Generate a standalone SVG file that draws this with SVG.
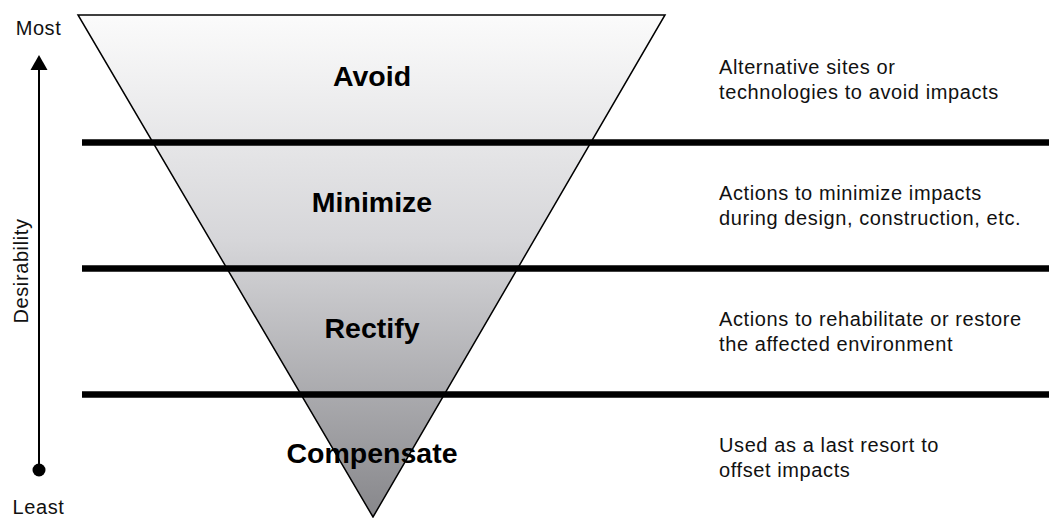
<svg xmlns="http://www.w3.org/2000/svg" width="1049" height="518" viewBox="0 0 1049 518">
  <defs>
    <linearGradient id="funnelFill" x1="0" y1="15" x2="0" y2="517" gradientUnits="userSpaceOnUse">
      <stop offset="0" stop-color="#fbfbfb"/>
      <stop offset="0.45" stop-color="#d6d6d9"/>
      <stop offset="1" stop-color="#87878b"/>
    </linearGradient>
  </defs>
  <style>
    .tier { font-family: "Liberation Sans", Arial, sans-serif; font-weight: bold; font-size: 28.5px; fill: #000; text-anchor: middle; }
    .desc { font-family: "Liberation Sans", Arial, sans-serif; font-size: 20px; letter-spacing: 0.6px; fill: #111; }
    .axis { font-family: "Liberation Sans", Arial, sans-serif; font-size: 20px; letter-spacing: 0.6px; fill: #111; text-anchor: middle; }
    .divider { stroke: #000; stroke-width: 6.5; }
  </style>
  <rect width="1049" height="518" fill="#fff"/>

  <!-- funnel -->
  <g id="funnel">
    <polygon points="78,15 665,15 373,517" fill="url(#funnelFill)" stroke="#000" stroke-width="1.5" stroke-linejoin="miter"/>
  </g>

  <!-- tier dividers -->
  <g id="dividers">
    <line class="divider" x1="82" y1="142.5" x2="1049" y2="142.5"/>
    <line class="divider" x1="82" y1="268.5" x2="1049" y2="268.5"/>
    <line class="divider" x1="82" y1="394.5" x2="1049" y2="394.5"/>
  </g>

  <!-- desirability axis -->
  <g id="axis">
    <line x1="39" y1="66" x2="39" y2="470" stroke="#000" stroke-width="2"/>
    <polygon points="39,55 47.5,70 30.5,70" fill="#000"/>
    <circle cx="39" cy="470" r="6.5" fill="#000"/>
    <text class="axis" x="38.5" y="35">Most</text>
    <text class="axis" x="38.5" y="514">Least</text>
    <text class="axis" transform="translate(28,271) rotate(-90)">Desirability</text>
  </g>

  <g id="tier-avoid">
    <text class="tier" x="372" y="86">Avoid</text>
    <text class="desc" x="719" y="74">Alternative sites or</text>
    <text class="desc" x="719" y="99">technologies to avoid impacts</text>
  </g>
  <g id="tier-minimize">
    <text class="tier" x="372" y="212">Minimize</text>
    <text class="desc" x="719" y="200">Actions to minimize impacts</text>
    <text class="desc" x="719" y="225">during design, construction, etc.</text>
  </g>
  <g id="tier-rectify">
    <text class="tier" x="372" y="338">Rectify</text>
    <text class="desc" x="719" y="326">Actions to rehabilitate or restore</text>
    <text class="desc" x="719" y="351">the affected environment</text>
  </g>
  <g id="tier-compensate">
    <text class="tier" x="372" y="463">Compensate</text>
    <text class="desc" x="719" y="452">Used as a last resort to</text>
    <text class="desc" x="719" y="477">offset impacts</text>
  </g>
</svg>
